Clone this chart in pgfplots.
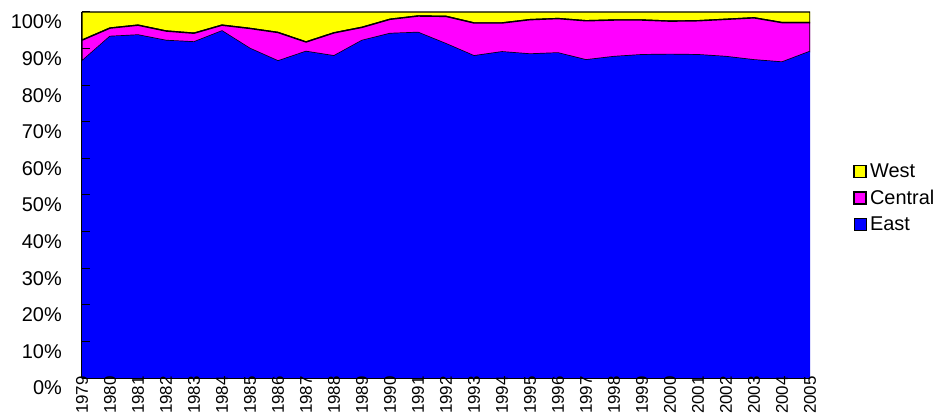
\documentclass[border=0pt]{standalone}
\usepackage{fontspec}
\setmainfont{Liberation Sans}
\usepackage{pgfplots}
\usepackage{pgfplotstable}
\pgfplotsset{compat=1.18}

\pgfplotstableread{
year east central west
1979 86.6 5.7 7.7
1980 93.3 2.3 4.4
1981 93.7 2.7 3.6
1982 92.2 2.6 5.2
1983 91.8 2.4 5.8
1984 94.8 1.6 3.6
1985 90.0 5.5 4.5
1986 86.6 7.8 5.6
1987 89.2 2.6 8.2
1988 88.0 6.3 5.7
1989 92.2 3.6 4.2
1990 94.1 3.9 2.0
1991 94.4 4.5 1.1
1992 91.3 7.5 1.2
1993 88.0 9.0 3.0
1994 89.1 7.9 3.0
1995 88.5 9.4 2.1
1996 88.8 9.4 1.8
1997 86.9 10.7 2.4
1998 87.8 10.0 2.2
1999 88.3 9.5 2.2
2000 88.4 9.1 2.5
2001 88.3 9.3 2.4
2002 87.8 10.2 2.0
2003 86.9 11.5 1.6
2004 86.3 10.8 2.9
2005 89.2 7.9 2.9
}\data

\definecolor{cEast}{RGB}{0,0,255}
\definecolor{cCentral}{RGB}{255,0,255}
\definecolor{cWest}{RGB}{255,255,0}

\begin{document}
\begin{tikzpicture}[x=1bp,y=1bp]
\begin{axis}[
  scale only axis,
  width=728bp, height=366bp,
  xmin=1979, xmax=2005,
  ymin=0, ymax=100,
  stack plots=y,
  axis on top,
  separate axis lines,
  axis x line*=bottom,
  axis y line*=left,
  axis line style={black, line width=1bp, -},
  xtick={1979,...,2005},
  ytick={0,10,...,100},
  tick align=inside,
  major tick length=8bp,
  xtick style={draw=none},
  ytick style={black, line width=1bp},
  /pgf/number format/assume math mode=true,
  /pgf/number format/1000 sep={},
  yticklabel={\pgfmathprintnumber{\tick}\%},
  yticklabel style={font=\fontsize{20}{23}\selectfont, inner sep=0pt, xshift=-20bp, yshift=-10bp},
  xticklabel style={font=\fontsize{17}{20}\selectfont, rotate=90, anchor=east, inner sep=0pt},
  xticklabel shift=-2bp,
  reverse legend,
  legend cell align=left,
  legend style={draw=none, fill=none, at={(1.059,0.492)}, anchor=west,
    font=\fontsize{20}{23}\selectfont, row sep=9bp, inner sep=0pt,
    /tikz/every node/.append style={inner xsep=3.5bp, inner ysep=1bp}},
  legend image code/.code={\draw[#1] (0bp,-6bp) rectangle (12bp,6bp);},
]
\addplot[fill=cEast, draw=none] table[x=year, y=east] {\data} \closedcycle;
\addlegendentry{East}
\addplot[fill=cCentral, draw=black, line width=1.4bp] table[x=year, y=central] {\data} \closedcycle;
\addlegendentry{Central}
\addplot[fill=cWest, draw=black, line width=1.4bp] table[x=year, y=west] {\data} \closedcycle;
\addlegendentry{West}
\end{axis}
\path (current axis.south west) ++(-82bp,-36bp) coordinate (bbA) ++(942bp,414bp) coordinate (bbB);
\pgfresetboundingbox
\useasboundingbox (bbA) rectangle (bbB);
\end{tikzpicture}
\end{document}
